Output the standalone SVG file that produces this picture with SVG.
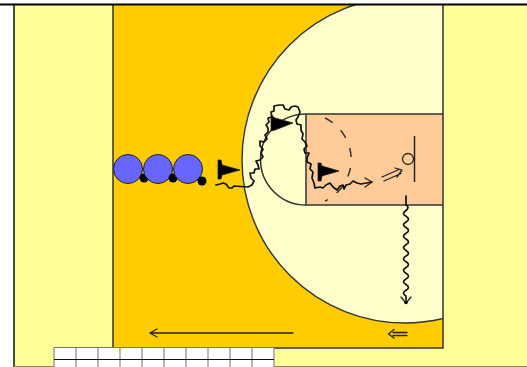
<svg xmlns="http://www.w3.org/2000/svg" width="527" height="367" viewBox="0 0 527 367">
<style>
.ln{fill:none;stroke:#333;stroke-width:1.5}
.wv{fill:none;stroke:#111;stroke-width:1.700;stroke-linejoin:round;stroke-linecap:round}
.ar{fill:none;stroke:#222;stroke-width:1.3;stroke-linecap:round;stroke-linejoin:round}
.pl{fill:#6666ff;stroke:#222;stroke-width:1}
.dot{fill:#000}
.fl{fill:#000;stroke:#222;stroke-width:.8}
.gr{stroke:#888;stroke-width:1.2}
</style>
<defs>
<clipPath id="c"><rect x="113" y="5" width="330" height="343"/></clipPath>
</defs>
<rect width="527" height="367" fill="#fff"/>
<g id="court">
<rect x="14" y="5" width="513" height="362" fill="#ffff99"/>
<rect x="113" y="5" width="330" height="343" fill="#ffcc00"/>
<circle cx="405" cy="160" r="163" fill="#ffffcc" stroke="#333" stroke-width="1.4" clip-path="url(#c)"/>
<rect x="306" y="114" width="137" height="91" fill="#ffcc99"/>
<path class="ln" d="M306 114H443M306 114V205H443"/>
<path class="ln" d="M306 114A45.500 45.500 0 0 0 306 205"/>
<path class="ln" stroke-dasharray="9 11" d="M325 118A46 46 0 0 1 325 201"/>
<path class="ln" d="M443 5V348H274M113 5V347"/>
<path d="M14 5V367" stroke="#111" stroke-width="1.500" fill="none"/>
<path d="M0 4.500H527" stroke="#000" stroke-width="2" fill="none"/>
<path d="M14 366.500H527" stroke="#888855" stroke-width="1" fill="none"/>
</g>
<g id="hoop">
<circle cx="408" cy="159" r="5.500" fill="none" stroke="#222" stroke-width="1.300"/>
<path d="M414.500 136V182" stroke="#222" stroke-width="1.500" fill="none"/>
</g>
<g id="players">
<g id="player-1"><circle class="pl" cx="128" cy="169" r="14.500"/><circle class="dot" cx="144" cy="178" r="4.500"/></g>
<g id="player-2"><circle class="pl" cx="158" cy="169" r="14.500"/><circle class="dot" cx="173" cy="178" r="4.500"/></g>
<g id="player-3"><circle class="pl" cx="188" cy="169" r="14.500"/><circle class="dot" cx="202" cy="181" r="4.500"/></g>
</g>
<g id="connectors">
<path class="wv" d="M216 185L220 184L223 183L226 184L229 188L232 188L234 186L248 187L252 185L254 181L251 178L250 173L254 173L255 169L259 169L258 165L256 161L260 160L263 157L261 153L263 149L260 146L260 141L264 142L267 139L265 135L268 132L268 128L266 125L269 122L268 118L272 117L271 112L274 111L274 106L279 105L283 105L285 109L289 110L291 107L295 106L298 107L300 112L298 117L296 120L297 124L301 125L301 130L303 134L302 139L305 142L307 146L304 149L305 153L309 153L307 158L307 162L311 164L310 169L313 172L312 178L314 183L315 188L320 187L323 188L326 185L330 183L333 187L337 190L340 186L343 185L344 189L346 185L350 184L353 181L357 183L361 184L372 182"/>
<path class="ar" d="M365 178L372 182L365 187"/>
<path class="ar" d="M382 177L399 169.500M384 181L401 173.500M395 168L402 170L397 177"/>
<path class="wv" d="M406 196V205q4 2 0 5.500q-5 3 0 5.700q5 3 0 5.700q-5 3 0 5.700q5 3 0 5.700q-5 3 0 5.700q5 3 0 5.700q-5 3 0 5.700q5 3 0 5.700q-5 3 0 5.700q5 3 0 5.700q-5 3 0 5.700q5 3 0 5.700q-5 3 0 5.700q5 3 0 5.700q-5 3 0 5.700L406 300"/>
<path class="ar" d="M401 297L406 303L411 297"/>
<circle class="dot" cx="406" cy="302.500" r="1.800"/>
<path class="ar" stroke-width="1.500" d="M293 333H150M157 329L150 333L157 337"/>
<path class="ar" d="M407 332.500H393M407 335.500H393M394 329.500L388.500 334L394 338"/>
</g>
<g id="cone-1"><path class="fl" d="M218 160V179H221L222 175L240 170L222 165L221 160Z"/></g>
<g id="cone-2"><path class="fl" d="M271 115V131L275 130L293 123L275 118Z"/></g>
<g id="cone-3"><path class="fl" d="M318 163V181H321L322 176L339 171L322 166L321 163Z"/></g>
<g id="table">
<rect x="54" y="347" width="220" height="20" fill="#fff"/>
<path class="gr" d="M54 347V367M76 347V367M98 347V367M120 347V367M142 347V367M164 347V367M186 347V367M208 347V367M230 347V367M252 347V367M274 347V367"/>
<path d="M54 347.500H274" stroke="#777" stroke-width="1" fill="none"/>
<path d="M54 359.500H274" stroke="#111" stroke-width="1" fill="none"/>
</g>
</svg>
